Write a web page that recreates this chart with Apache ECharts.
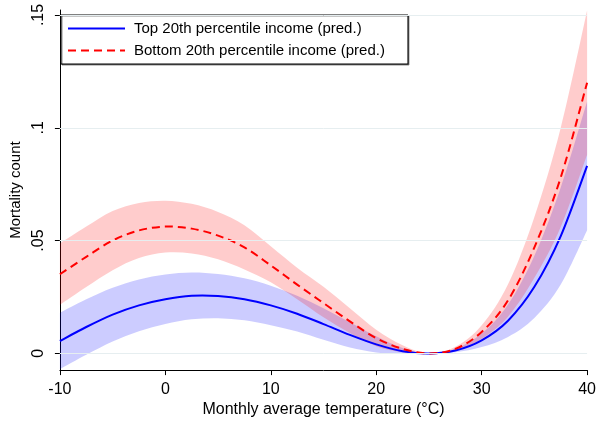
<!DOCTYPE html>
<html>
<head>
<meta charset="utf-8">
<script src="https://cdn.jsdelivr.net/npm/echarts@6/dist/echarts.min.js"></script>
<style>
  html, body { margin: 0; padding: 0; background: #fff; }
  #chart { width: 599px; height: 423px; }
</style>
</head>
<body>
<div id="chart"></div>
<script>
// Monthly average temperature (°C)
const temps = [-10, -7.5, -5, -2.5, 0, 2.5, 5, 7.5, 10, 12.5, 15, 17.5, 20, 22.5, 25, 27.5, 30, 32.5, 35, 37.5, 40];

// Top 20th percentile income: prediction and confidence band
const topPred  = [0.0055, 0.0117, 0.0172, 0.0213, 0.0240, 0.0255, 0.0254, 0.0240, 0.0213, 0.0176, 0.0130, 0.0082, 0.0040, 0.0010, 0, 0.0013, 0.0058, 0.0145, 0.0295, 0.0520, 0.0831];
const topLow   = [-0.0070, -0.0006, 0.0053, 0.0098, 0.0130, 0.0151, 0.0156, 0.0147, 0.0125, 0.0097, 0.0060, 0.0026, 0.0004, -0.0003, 0, 0.0005, 0.0028, 0.0073, 0.0157, 0.0305, 0.0546];
const topHigh  = [0.0180, 0.0240, 0.0291, 0.0328, 0.0350, 0.0359, 0.0352, 0.0333, 0.0300, 0.0255, 0.0200, 0.0138, 0.0076, 0.0024, 0, 0.0021, 0.0088, 0.0217, 0.0433, 0.0735, 0.1116];

// Bottom 20th percentile income: prediction and confidence band
const botPred  = [0.0351, 0.0428, 0.0500, 0.0545, 0.0562, 0.0553, 0.0522, 0.0470, 0.0390, 0.0305, 0.0223, 0.0142, 0.0068, 0.0020, 0, 0.0020, 0.0095, 0.0235, 0.0470, 0.0780, 0.1200];
const botLow   = [0.0215, 0.0294, 0.0369, 0.0423, 0.0447, 0.0443, 0.0417, 0.0372, 0.0315, 0.0240, 0.0160, 0.0090, 0.0032, 0.0005, 0, 0.0011, 0.0065, 0.0163, 0.0335, 0.0560, 0.0880];
const botHigh  = [0.0487, 0.0562, 0.0631, 0.0667, 0.0677, 0.0663, 0.0627, 0.0568, 0.0475, 0.0380, 0.0295, 0.0200, 0.0105, 0.0036, 0, 0.0029, 0.0125, 0.0307, 0.0605, 0.1000, 0.1520];

// Axis ticks
const yTicks = [0, 0.05, 0.1, 0.15];
const xTicks = [-10, 0, 10, 20, 30, 40];

const seriesNames = ['Top 20th percentile income (pred.)', 'Bottom 20th percentile income (pred.)'];

const FONT = '"Liberation Sans", Arial, sans-serif';

// Catmull-Rom spline through pixel points, as cubic bezier commands
function splineCmds(pts) {
  let d = '';
  const n = pts.length;
  for (let i = 0; i < n - 1; i++) {
    const p0 = pts[Math.max(i - 1, 0)];
    const p1 = pts[i];
    const p2 = pts[i + 1];
    const p3 = pts[Math.min(i + 2, n - 1)];
    const c1x = p1[0] + (p2[0] - p0[0]) / 6, c1y = p1[1] + (p2[1] - p0[1]) / 6;
    const c2x = p2[0] - (p3[0] - p1[0]) / 6, c2y = p2[1] - (p3[1] - p1[1]) / 6;
    d += ` C ${c1x} ${c1y} ${c2x} ${c2y} ${p2[0]} ${p2[1]}`;
  }
  return d;
}

function toPixels(api, ys) {
  return temps.map((t, i) => api.coord([t, ys[i]]));
}

function bandSeries(lo, hi, color, z) {
  return {
    type: 'custom', silent: true, z: z,
    data: [[0]],
    renderItem: (params, api) => {
      const up = toPixels(api, hi);
      const dn = toPixels(api, lo).reverse();
      const d = `M ${up[0][0]} ${up[0][1]}` + splineCmds(up) +
                ` L ${dn[0][0]} ${dn[0][1]}` + splineCmds(dn) + ' Z';
      return { type: 'path', shape: { pathData: d }, style: { fill: color, stroke: null } };
    }
  };
}

function curveSeries(ys, color, dash, z) {
  return {
    type: 'custom', silent: true, z: z,
    data: [[0]],
    renderItem: (params, api) => {
      const p = toPixels(api, ys);
      const d = `M ${p[0][0]} ${p[0][1]}` + splineCmds(p);
      return {
        type: 'path', shape: { pathData: d },
        style: { fill: null, stroke: color, lineWidth: 2, lineDash: dash, lineCap: 'butt', lineJoin: 'round' }
      };
    }
  };
}

const chart = echarts.init(document.getElementById('chart'), null, { renderer: 'canvas' });

chart.setOption({
  animation: false,
  backgroundColor: '#fff',
  textStyle: { fontFamily: FONT },
  grid: { left: 54, right: 9, top: 10, bottom: 45, containLabel: false },
  legend: {
    data: seriesNames,
    orient: 'vertical',
    left: 61,
    top: 15,
    padding: [6, 23, 6, 6],
    itemGap: 7,
    itemWidth: 57,
    itemHeight: 14,
    backgroundColor: '#fff',
    borderColor: '#000',
    borderWidth: 1,
    borderRadius: 0,
    shadowColor: 'rgba(0,0,0,0.45)',
    shadowBlur: 0,
    shadowOffsetX: 1,
    shadowOffsetY: 1,
    itemStyle: { opacity: 0 },
    textStyle: { fontFamily: FONT, fontSize: 15, color: '#000', padding: [0, 0, 0, 4] }
  },
  xAxis: {
    type: 'value',
    min: -10, max: 40, interval: 10,
    name: 'Monthly average temperature (°C)',
    nameLocation: 'middle',
    nameGap: 28,
    nameTextStyle: { fontFamily: FONT, fontSize: 16, color: '#000' },
    axisLine: { show: true, onZero: false, lineStyle: { color: '#000', width: 1 } },
    axisTick: { show: true, length: 5, lineStyle: { color: '#000' }, customValues: xTicks },
    axisLabel: { fontFamily: FONT, fontSize: 16, color: '#000', margin: 11, customValues: xTicks },
    splitLine: { show: false }
  },
  yAxis: {
    type: 'value',
    min: -0.0074, max: 0.1522,
    name: 'Mortality count',
    nameLocation: 'middle',
    nameGap: 34,
    nameRotate: 90,
    nameTextStyle: { fontFamily: FONT, fontSize: 15, color: '#000' },
    axisLine: { show: true, onZero: false, lineStyle: { color: '#000', width: 1 } },
    axisTick: { show: true, length: 5, lineStyle: { color: '#000' }, customValues: yTicks },
    axisLabel: {
      fontFamily: FONT, fontSize: 16, color: '#000', rotate: 90, margin: 13,
      customValues: yTicks,
      formatter: (v) => (v === 0 ? '0' : String(v).replace(/^0/, ''))
    },
    splitLine: { show: false }
  },
  series: [
    {
      // horizontal reference lines at each y tick
      type: 'line', data: [], silent: true, z: 0,
      markLine: {
        silent: true, symbol: 'none', label: { show: false },
        lineStyle: { color: '#e6eef0', width: 1, type: 'solid' },
        data: yTicks.map((v) => ({ yAxis: v }))
      }
    },
    bandSeries(topLow, topHigh, 'rgba(0,0,255,0.2)', 1),
    bandSeries(botLow, botHigh, 'rgba(255,0,0,0.2)', 1),
    curveSeries(topPred, '#0000ff', null, 3),
    curveSeries(botPred, '#ff0000', [8, 5], 4),
    // legend entries
    {
      name: seriesNames[0], type: 'line', data: [], symbol: 'none',
      itemStyle: { color: '#0000ff' },
      lineStyle: { color: '#0000ff', width: 2 }
    },
    {
      name: seriesNames[1], type: 'line', data: [], symbol: 'none',
      itemStyle: { color: '#ff0000' },
      lineStyle: { color: '#ff0000', width: 2, type: [8, 5] }
    }
  ]
});
</script>
</body>
</html>
